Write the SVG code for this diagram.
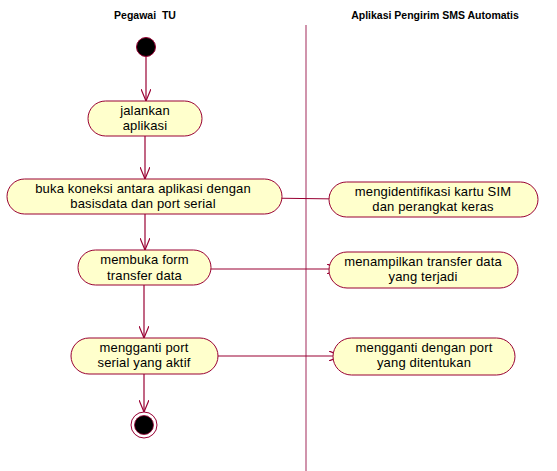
<svg xmlns="http://www.w3.org/2000/svg" width="557" height="471" viewBox="0 0 557 471">
<style>
.hdr{font-family:"Liberation Sans",Arial,sans-serif;font-size:10.5px;font-weight:bold;fill:#000;text-anchor:middle}
.act{fill:#FFFFCC;stroke:#990033;stroke-width:1}
.lbl{font-family:"Liberation Sans",Arial,sans-serif;font-size:13px;letter-spacing:0.15px;fill:#000;text-anchor:middle}
.edge{stroke:#990033;stroke-width:1.2;fill:none}
</style>
<defs>
<marker id="arr" viewBox="0 0 12 10" refX="12" refY="5" markerWidth="12" markerHeight="10" orient="auto" markerUnits="userSpaceOnUse">
<path d="M0,0 L12,5 L0,10" fill="none" stroke="#990033" stroke-width="1.2"/>
</marker>
</defs>
<rect width="557" height="471" fill="#fff"/>
<g id="lanes">
<text class="hdr" x="145" y="19">Pegawai&#160; TU</text>
<text class="hdr" x="435" y="19">Aplikasi Pengirim SMS Automatis</text>
<line x1="306" y1="25" x2="306" y2="471" stroke="#C07090" stroke-width="1.5"/>
</g>
<g id="connectors">
<line class="edge" x1="146" y1="56" x2="146" y2="101" marker-end="url(#arr)"/>
<line class="edge" x1="145" y1="136" x2="145" y2="179" marker-end="url(#arr)"/>
<line class="edge" x1="145" y1="214" x2="145" y2="250" marker-end="url(#arr)"/>
<line class="edge" x1="144" y1="285" x2="144" y2="338" marker-end="url(#arr)"/>
<line class="edge" x1="144" y1="374" x2="144" y2="412" marker-end="url(#arr)"/>
<line class="edge" x1="262" y1="198" x2="341" y2="199" marker-end="url(#arr)"/>
<line class="edge" x1="211" y1="269" x2="339" y2="269" marker-end="url(#arr)"/>
<line class="edge" x1="217" y1="356" x2="341" y2="356" marker-end="url(#arr)"/>
</g>
<g id="start"><circle cx="146" cy="47" r="9.5" fill="#000" stroke="#990033" stroke-width="1"/></g>
<g id="n1">
<rect class="act" x="88" y="101" width="114" height="35" rx="17.5"/>
<text class="lbl" x="145" y="115">jalankan</text>
<text class="lbl" x="145" y="130">aplikasi</text>
</g>
<g id="n2">
<rect class="act" x="7" y="179" width="275" height="35" rx="17.5"/>
<text class="lbl" x="143" y="192.5">buka koneksi antara aplikasi dengan</text>
<text class="lbl" x="143" y="207.5">basisdata dan port serial</text>
</g>
<g id="n3">
<rect class="act" x="78" y="250" width="133" height="35" rx="17.5"/>
<text class="lbl" x="144.5" y="264">membuka form</text>
<text class="lbl" x="144.5" y="279.5">transfer data</text>
</g>
<g id="n4">
<rect class="act" x="71" y="338" width="147" height="36" rx="18"/>
<text class="lbl" x="144" y="351.5">mengganti port</text>
<text class="lbl" x="144" y="366.5">serial yang aktif</text>
</g>
<g id="r1">
<rect class="act" x="329" y="182" width="209" height="35" rx="17.5"/>
<text class="lbl" x="433" y="196">mengidentifikasi kartu SIM</text>
<text class="lbl" x="433" y="211">dan perangkat keras</text>
</g>
<g id="r2">
<rect class="act" x="329" y="252" width="189" height="36" rx="18"/>
<text class="lbl" x="423" y="265.5">menampilkan transfer data</text>
<text class="lbl" x="423" y="281">yang terjadi</text>
</g>
<g id="r3">
<rect class="act" x="333" y="338" width="182" height="37" rx="18.5"/>
<text class="lbl" x="424" y="352">mengganti dengan port</text>
<text class="lbl" x="424" y="367">yang ditentukan</text>
</g>
<g id="end">
<circle cx="144" cy="425" r="13" fill="#fff" stroke="#990033" stroke-width="1"/>
<circle cx="144" cy="425" r="9.5" fill="#000" stroke="#990033" stroke-width="0.8"/>
</g>
</svg>
